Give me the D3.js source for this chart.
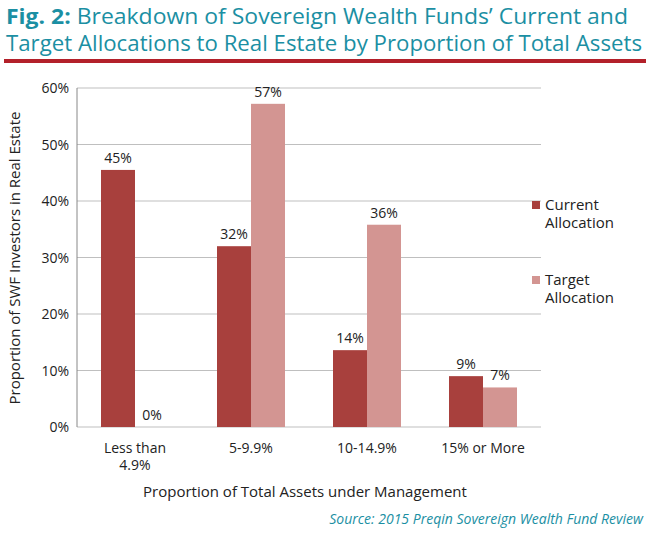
<!DOCTYPE html>
<html><head><meta charset="utf-8">
<script src="https://cdn.jsdelivr.net/npm/d3@7"></script>
<style>body{margin:0;background:#fff;font-family:"Open Sans",Lato,sans-serif;}</style>
</head><body><svg id="c" width="650" height="533"></svg>
<script>
var categories = [["Less than", "4.9%"], ["5-9.9%"], ["10-14.9%"], ["15% or More"]];
var currentVals = [45.5, 32, 13.6, 9];
var targetVals = [0, 57.2, 35.8, 7];
var currentLabels = ["45%", "32%", "14%", "9%"];
var targetLabels = ["0%", "57%", "36%", "7%"];
var yTicks = [0, 10, 20, 30, 40, 50, 60];

var svg = d3.select("#c");
var plotL = 77, plotR = 541, plotT = 88, plotB = 427;

// title
var t = svg.append("text").attr("x", 6).attr("y", 24).style("font-size", "21px").attr("fill", "#1b8fa3")
  .attr("textLength", 622).attr("lengthAdjust", "spacingAndGlyphs");
t.append("tspan").text("Fig. 2: ").style("font-weight", "bold");
t.append("tspan").text("Breakdown of Sovereign Wealth Funds\u2019 Current and");
svg.append("text").attr("x", 6).attr("y", 51).style("font-size", "21px").attr("fill", "#1b8fa3")
  .attr("textLength", 636).attr("lengthAdjust", "spacingAndGlyphs")
  .text("Target Allocations to Real Estate by Proportion of Total Assets");
svg.append("rect").attr("x", 4).attr("y", 59).attr("width", 642).attr("height", 4).attr("fill", "#b3202a");

var x = d3.scaleBand().domain(d3.range(categories.length)).range([plotL, plotR]);
var y = d3.scaleLinear().domain([0, 60]).range([plotB, plotT]);

svg.append("g").selectAll("line").data(yTicks).join("line")
  .attr("x1", plotL).attr("x2", plotR).attr("y1", d => y(d)).attr("y2", d => y(d))
  .attr("stroke", "#bfbfbf");
svg.append("line").attr("x1", plotL).attr("x2", plotL).attr("y1", plotT).attr("y2", plotB).attr("stroke", "#888");
svg.append("g").selectAll("text").data(yTicks).join("text")
  .attr("x", plotL - 8).attr("y", d => y(d) + 5).attr("text-anchor", "end")
  .style("font-size", "14px").attr("fill", "#222").text(d => d + "%");

var bw = 34;
function bars(vals, labels, off, col) {
  var g = svg.append("g");
  g.selectAll("rect").data(vals).join("rect")
    .attr("x", (d, i) => x(i) + x.bandwidth() / 2 + off).attr("width", bw)
    .attr("y", d => y(d)).attr("height", d => plotB - y(d)).attr("fill", col);
  g.selectAll("text").data(vals).join("text")
    .attr("x", (d, i) => x(i) + x.bandwidth() / 2 + off + bw / 2).attr("y", d => y(d) - 7)
    .attr("text-anchor", "middle").style("font-size", "14px").attr("fill", "#222")
    .text((d, i) => labels[i]);
}
bars(currentVals, currentLabels, -bw, "#a8403d");
bars(targetVals, targetLabels, 0, "#d39592");

categories.forEach(function (c, i) {
  c.forEach(function (s, j) {
    svg.append("text").attr("x", x(i) + x.bandwidth() / 2).attr("y", 453 + j * 17)
      .attr("text-anchor", "middle").style("font-size", "14px").attr("fill", "#222").text(s);
  });
});

svg.append("text").attr("x", 305).attr("y", 497).attr("text-anchor", "middle")
  .style("font-size", "15px").attr("fill", "#222").text("Proportion of Total Assets under Management");
svg.append("text").attr("transform", "translate(20,258) rotate(-90)").attr("text-anchor", "middle")
  .style("font-size", "15px").attr("fill", "#222").text("Proportion of SWF Investors in Real Estate");

[["Current", "Allocation", "#a8403d", 205], ["Target", "Allocation", "#d39592", 280]].forEach(function (l) {
  svg.append("rect").attr("x", 532).attr("y", l[3] - 4).attr("width", 8).attr("height", 8).attr("fill", l[2]);
  svg.append("text").attr("x", 545).attr("y", l[3] + 5).style("font-size", "15px").attr("fill", "#222").text(l[0]);
  svg.append("text").attr("x", 545).attr("y", l[3] + 23).style("font-size", "15px").attr("fill", "#222").text(l[1]);
});

svg.append("text").attr("x", 643).attr("y", 524).attr("text-anchor", "end")
  .style("font-size", "14px").style("font-style", "italic").attr("fill", "#1b8fa3")
  .text("Source: 2015 Preqin Sovereign Wealth Fund Review");
</script></body></html>
